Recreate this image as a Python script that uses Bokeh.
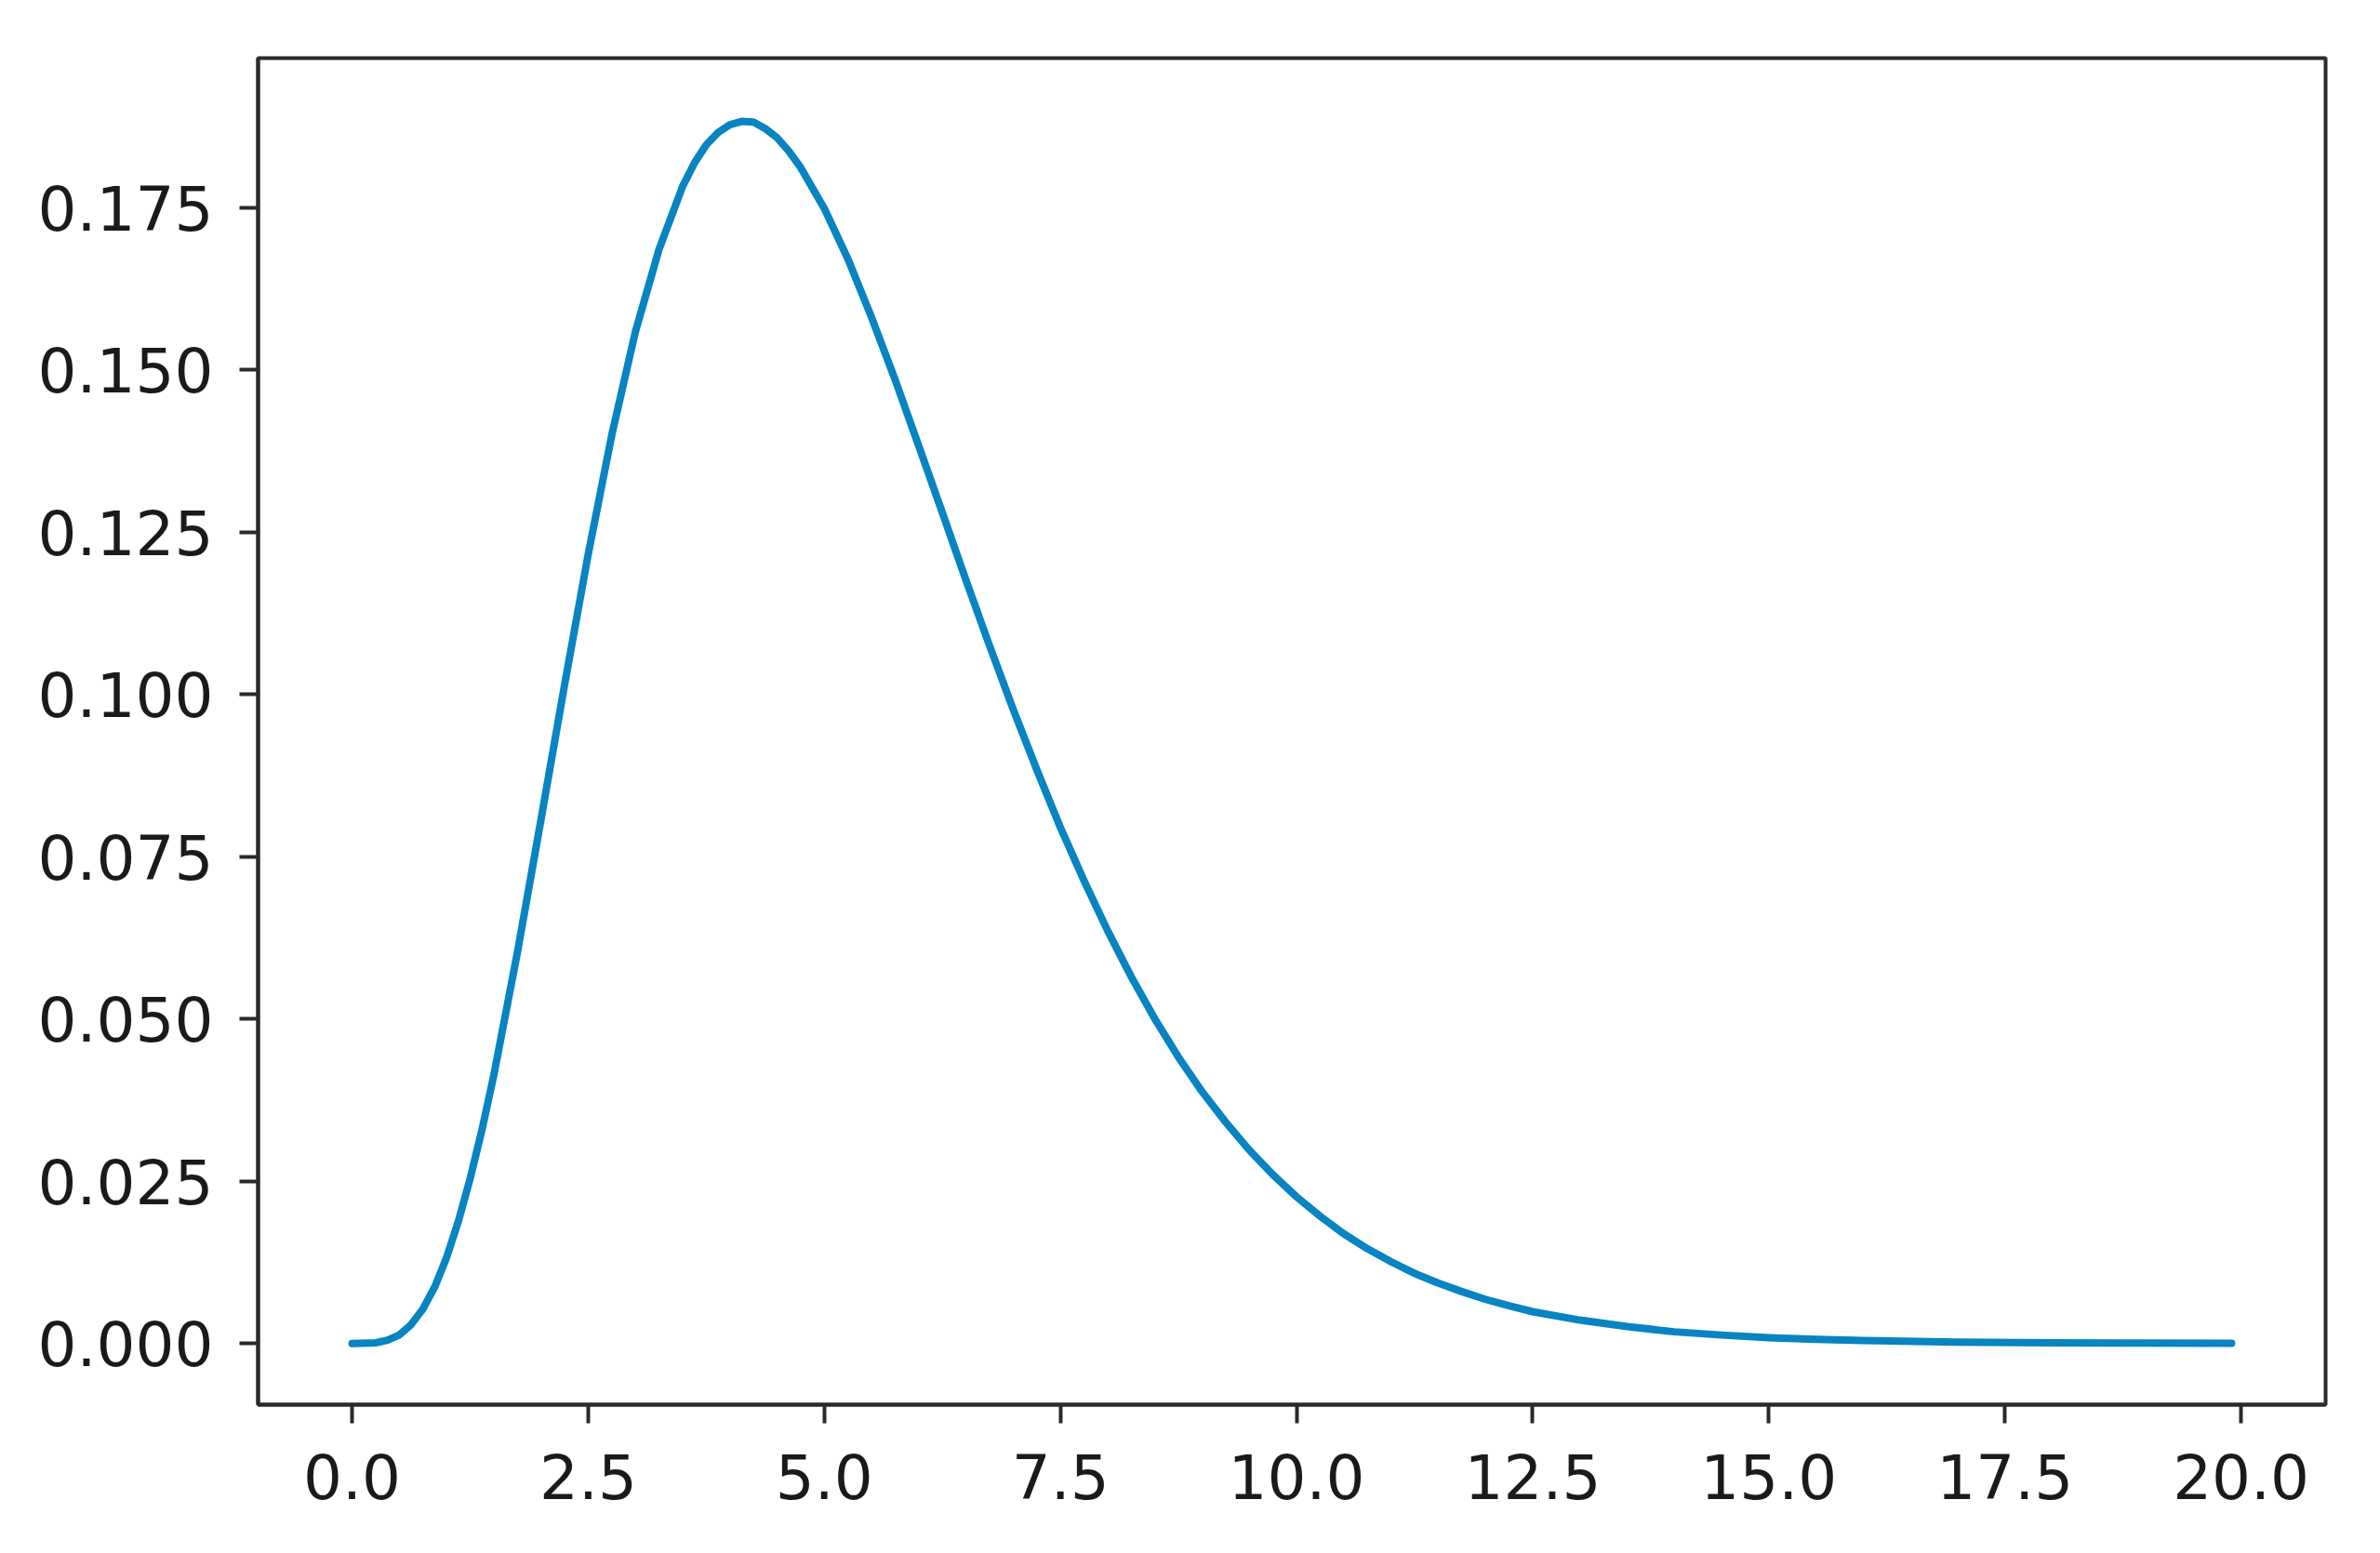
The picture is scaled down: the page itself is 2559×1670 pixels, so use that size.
from bokeh.plotting import figure
from bokeh.models import Range1d, FixedTicker, NumeralTickFormatter
from bokeh.embed import file_html
from bokeh.resources import INLINE

# Values
x_vals = [0.0, 0.25, 0.375, 0.5, 0.625, 0.75, 0.875, 1.0, 1.125, 1.25, 1.375,
          1.5, 1.75, 2.0, 2.25, 2.5, 2.75, 3.0, 3.25, 3.5, 3.625, 3.75, 3.875,
          4.0, 4.125, 4.25, 4.375, 4.5, 4.625, 4.75, 5.0, 5.25, 5.5, 5.75,
          6.0, 6.25, 6.5, 6.75, 7.0, 7.25, 7.5, 7.75, 8.0, 8.25, 8.5, 8.75,
          9.0, 9.25, 9.5, 9.75, 10.0, 10.25, 10.5, 10.75, 11.0, 11.25, 11.5,
          11.75, 12.0, 12.25, 12.5, 13.0, 13.5, 14.0, 14.5, 15.0, 15.5, 16.0,
          17.0, 18.0, 19.0, 19.9]
y_vals = [0.0000, 0.0001, 0.0005, 0.0013, 0.0029, 0.0053, 0.0087, 0.0132,
          0.0188, 0.0254, 0.0329, 0.0413, 0.0602, 0.0807, 0.1015, 0.1216,
          0.1400, 0.1559, 0.1686, 0.1783, 0.1819, 0.1847, 0.1866, 0.1878,
          0.1883, 0.1882, 0.1872, 0.1858, 0.1837, 0.1812, 0.1749, 0.1671,
          0.1581, 0.1485, 0.1383, 0.1280, 0.1176, 0.1075, 0.0977, 0.0884,
          0.0795, 0.0713, 0.0636, 0.0565, 0.0500, 0.0441, 0.0388, 0.0341,
          0.0298, 0.0260, 0.0226, 0.0196, 0.0169, 0.0146, 0.0126, 0.0108,
          0.0093, 0.0080, 0.0068, 0.0058, 0.0049, 0.0036, 0.0026, 0.0018,
          0.0013, 0.0009, 0.00065, 0.00045, 0.00022, 0.00011, 0.00005, 0.00002]
x_ticks = [0.0, 2.5, 5.0, 7.5, 10.0, 12.5, 15.0, 17.5, 20.0]
y_ticks = [0.0, 0.025, 0.05, 0.075, 0.1, 0.125, 0.15, 0.175]

p = figure(width=2543, height=1654, output_backend="svg", toolbar_location=None,
           x_range=Range1d(-0.995, 20.895), y_range=Range1d(-0.00943, 0.19806),
           min_border_left=277, min_border_right=43, min_border_top=62,
           min_border_bottom=144)
p.background_fill_color = "white"
p.border_fill_color = "white"
p.outline_line_color = "#2a2a2a"
p.outline_line_width = 4
p.xgrid.visible = False
p.ygrid.visible = False

p.line(x_vals, y_vals, line_color="#0784c1", line_width=8, line_join="round",
       line_cap="round")

for ax, ticks, fmt in ((p.xaxis[0], x_ticks, "0.0"), (p.yaxis[0], y_ticks, "0.000")):
    ax.ticker = FixedTicker(ticks=ticks)
    ax.formatter = NumeralTickFormatter(format=fmt)
    ax.axis_line_color = "#2a2a2a"
    ax.axis_line_width = 4
    ax.major_tick_line_color = "#2a2a2a"
    ax.major_tick_line_width = 4
    ax.major_tick_out = 20
    ax.major_tick_in = 0
    ax.minor_tick_line_color = None
    ax.major_label_text_font = "DejaVu Sans"
    ax.major_label_text_font_size = "66px"
    ax.major_label_text_color = "#1a1a1a"
p.xaxis[0].major_label_standoff = 32
p.yaxis[0].major_label_standoff = 28

open("out.html", "w").write(file_html(p, INLINE))
